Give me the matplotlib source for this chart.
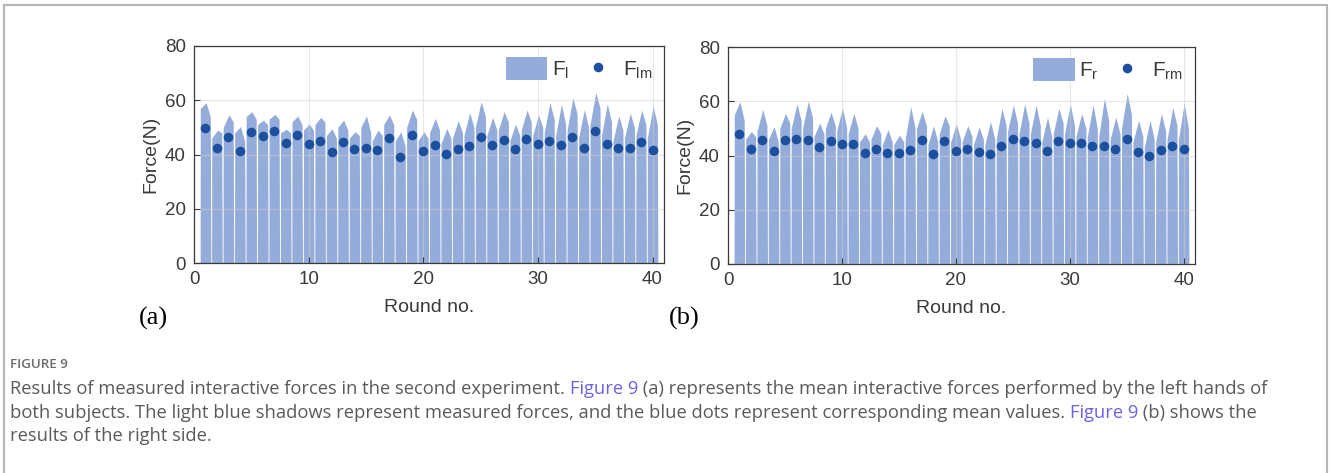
import matplotlib
matplotlib.use("Agg")
import matplotlib.pyplot as plt
from matplotlib.lines import Line2D

plt.rcParams['font.family'] = ['Liberation Sans', 'DejaVu Sans']
plt.rcParams['mathtext.fontset'] = 'custom'
plt.rcParams['mathtext.rm'] = 'Liberation Sans'
plt.rcParams['mathtext.it'] = 'Liberation Sans'

# ---- data ----
rounds = list(range(1, 41))

# (a) left hand: per-round peak, level after the rise, level before the drop, mean
peak_l = [59.1, 49.0, 54.6, 50.3, 55.8, 52.7, 54.8, 49.3, 54.2, 51.2,
          53.7, 49.5, 52.7, 48.4, 54.2, 49.0, 54.6, 48.4, 56.4, 48.4,
          53.3, 49.6, 52.5, 55.4, 59.5, 53.7, 55.8, 51.2, 56.4, 54.6,
          59.1, 58.6, 60.9, 56.6, 62.9, 58.6, 54.2, 55.2, 56.4, 57.9]
start_l = [57, 46, 50, 48, 54, 51, 53, 48, 52, 49,
           51, 47, 50, 46, 50, 45, 51, 45, 50, 45,
           48, 44, 46, 47, 50, 47, 49, 45, 49, 47,
           48, 47, 49, 46, 51, 47, 45, 46, 47, 46]
end_l = [54, 48, 52, 45, 53, 51, 53, 48, 51, 49,
         52, 46, 49, 47, 48, 47, 51, 43, 53, 46,
         49, 46, 48, 50, 54, 49, 52, 47, 52, 50,
         53, 51, 55, 50, 57, 52, 49, 50, 51, 51]
mean_l = [49.6, 42.3, 46.3, 41.2, 48.2, 46.7, 48.5, 44.4, 47.2, 44.0,
          45.1, 40.9, 44.7, 42.2, 42.3, 41.8, 46.0, 39.1, 47.1, 41.2,
          43.4, 40.3, 42.0, 43.0, 46.3, 43.5, 45.5, 41.9, 45.8, 43.7,
          45.0, 43.5, 46.3, 42.4, 48.5, 43.7, 42.5, 42.5, 44.5, 41.8]

# (b) right hand
peak_r = [59.8, 48.8, 57.0, 50.6, 55.5, 59.0, 60.0, 52.0, 56.0, 57.6,
          55.5, 48.0, 51.0, 49.5, 47.5, 58.0, 56.3, 51.0, 54.6, 51.6,
          51.0, 50.5, 52.5, 57.4, 58.6, 59.0, 58.6, 54.2, 57.4, 59.0,
          55.5, 58.6, 61.1, 54.2, 62.9, 53.0, 53.0, 55.5, 57.7, 59.2]
start_r = [55, 46, 49, 46, 50, 50, 50, 47, 50, 49,
           48, 45, 46, 44, 44, 46, 50, 44, 48, 45,
           45, 44, 44, 46, 49, 48, 48, 45, 48, 48,
           47, 47, 47, 46, 50, 45, 43, 45, 46, 46]
end_r = [53, 47, 51, 45, 52, 53, 54, 48, 51, 50,
         50, 45, 48, 45, 45, 50, 51, 45, 51, 46,
         47, 46, 46, 51, 52, 52, 51, 47, 52, 51,
         50, 50, 53, 48, 55, 47, 46, 49, 51, 50]
mean_r = [48.0, 42.3, 45.6, 41.5, 45.6, 45.9, 45.6, 43.1, 45.5, 44.2,
          44.3, 40.8, 42.3, 40.9, 40.8, 41.9, 45.6, 40.7, 45.2, 41.7,
          42.4, 41.4, 40.4, 43.6, 46.1, 45.3, 44.6, 41.5, 45.5, 44.5,
          44.7, 43.5, 43.5, 42.5, 46.2, 41.3, 39.8, 42.1, 43.6, 42.4]

FILL = '#93acd9'
DOT = '#1d4f9f'
INK = '#3a3a3a'


def wave(peak, start, end):
    # one hump per round, dropping to zero between rounds
    xs, ys = [], []
    for i, p, s, e in zip(rounds, peak, start, end):
        xs += [i - 0.465, i - 0.45, i + 0.05, i + 0.42, i + 0.465]
        ys += [0, s, p, e, 0]
    return xs, ys


W, H = 1330, 473
fig = plt.figure(figsize=(W / 100, H / 100), dpi=100)


def draw(rect, peak, start, end, mean, lab_f, lab_m, tag, tag_x):
    ax = fig.add_axes(rect)
    xs, ys = wave(peak, start, end)
    ax.fill_between(xs, ys, 0, color=FILL, lw=0, label=lab_f, zorder=1)
    ax.scatter(rounds, mean, s=48, color=DOT, lw=0, label=lab_m, zorder=3)
    ax.set_xlim(0, 41)
    ax.set_ylim(0, 80)
    ax.set_xticks([0, 10, 20, 30, 40])
    ax.set_yticks([0, 20, 40, 60, 80])
    ax.grid(True, color='#d0d0d0', alpha=0.5, lw=0.9, zorder=2)
    ax.set_axisbelow(False)
    for sp in ax.spines.values():
        sp.set_color(INK)
        sp.set_linewidth(0.9)
        sp.set_zorder(4)
    ax.tick_params(direction='in', length=4, width=0.8, color=INK,
                   labelcolor=INK, labelsize=13.5, pad=6)
    ax.set_xlabel('Round no.', fontsize=14, color=INK, labelpad=8)
    ax.set_ylabel('Force(N)', fontsize=14, color=INK, labelpad=4)
    ax.legend(loc='upper right', ncol=2, frameon=False, fontsize=15,
              handlelength=2.0, handleheight=1.3, handletextpad=0.2,
              columnspacing=0.4, borderaxespad=0.15, labelcolor=INK)
    fig.text(tag_x / W, 1 - 318 / H, tag, fontsize=19,
             family=['Liberation Serif'], ha='center', va='center',
             color='black')
    return ax


draw([194 / W, 1 - 263 / H, 470 / W, 217 / H], peak_l, start_l, end_l,
     mean_l, r'$\mathrm{F_l}$', r'$\mathrm{F_{lm}}$', '(a)', 153)
draw([728 / W, 1 - 264 / H, 467 / W, 217 / H], peak_r, start_r, end_r,
     mean_r, r'$\mathrm{F_r}$', r'$\mathrm{F_{rm}}$', '(b)', 684)

# frame round the whole figure (open at the bottom)
for xd, yd in [([4, 1327], [5, 5]), ([4, 4], [5, 473]),
               ([1327, 1327], [5, 473])]:
    fig.add_artist(Line2D([x / W for x in xd], [1 - y / H for y in yd],
                          color='#b5b5b5', lw=1.5))

# caption
CAP = '#5a5a5a'
LINK = '#6b62e6'
cap_font = ['Open Sans', 'DejaVu Sans']
fig.text(10 / W, 1 - 364 / H, 'FIGURE 9', fontsize=9.6, color='#6a6a6a',
         family=cap_font, weight='semibold', va='center')

lines = [
    [('Results of measured interactive forces in the second experiment. ', CAP),
     ('Figure 9', LINK),
     (' (a) represents the mean interactive forces performed by the left hands of', CAP)],
    [('both subjects. The light blue shadows represent measured forces, and the blue dots represent corresponding mean values. ', CAP),
     ('Figure 9', LINK),
     (' (b) shows the', CAP)],
    [('results of the right side.', CAP)],
]
renderer = fig.canvas.get_renderer()
for k, parts in enumerate(lines):
    y = 1 - (389 + 23.5 * k) / H
    x = 10
    for txt, col in parts:
        t = fig.text(x / W, y, txt, fontsize=13.2, color=col,
                     family=cap_font, va='center')
        x = t.get_window_extent(renderer).x1

fig.savefig('out.png', dpi=100)
